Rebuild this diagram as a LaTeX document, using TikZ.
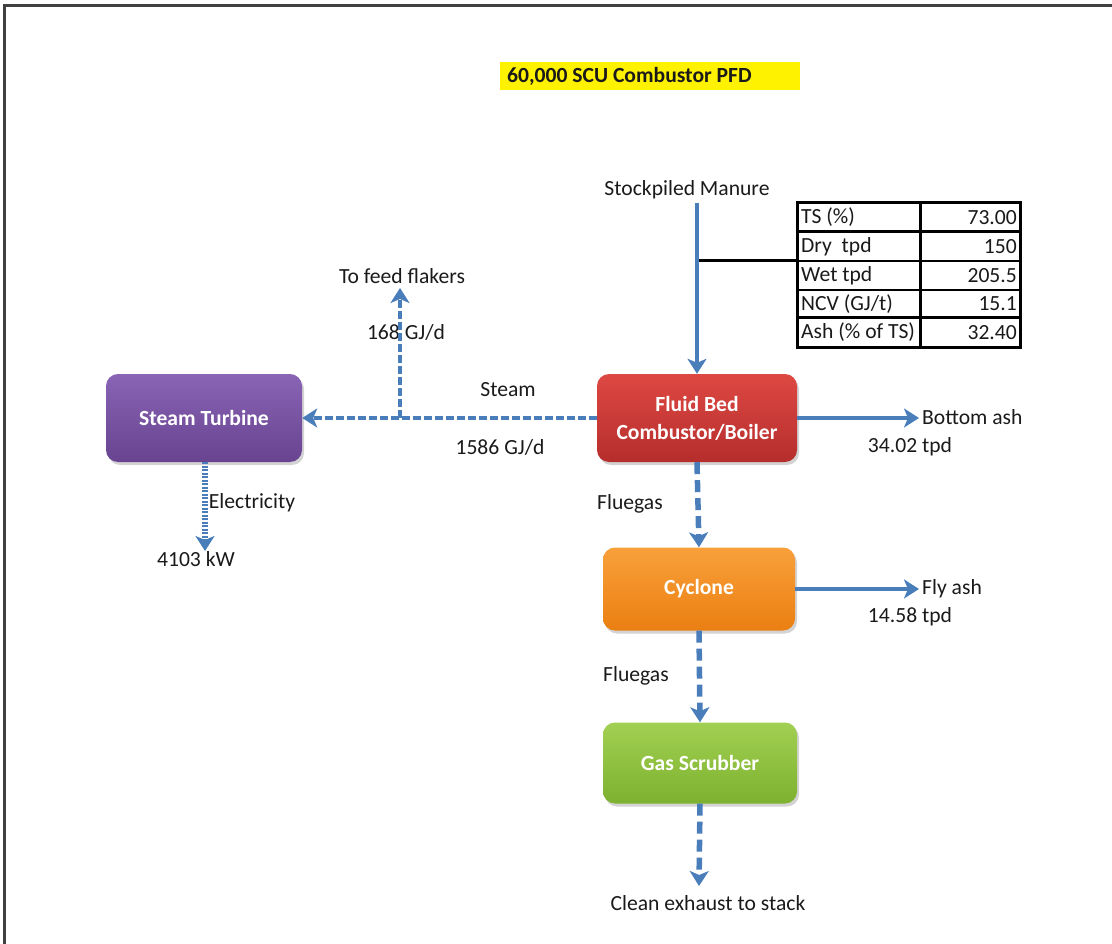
\documentclass[tikz,border=0pt]{standalone}
\usepackage{fontspec}
\setmainfont{Carlito}
\usetikzlibrary{arrows.meta,shadows,positioning}
\definecolor{flowblue}{HTML}{4A7EBB}
\definecolor{frame}{HTML}{404040}
\definecolor{txt}{HTML}{1A1A1A}
\definecolor{purpleT}{HTML}{8A64B5}
\definecolor{purpleB}{HTML}{674390}
\definecolor{redT}{HTML}{DE4843}
\definecolor{redB}{HTML}{B52E2C}
\definecolor{orangeT}{HTML}{F9A03A}
\definecolor{orangeB}{HTML}{EA7F12}
\definecolor{greenT}{HTML}{A2D052}
\definecolor{greenB}{HTML}{7DB12F}
\newcommand\fsz{\fontsize{21.6}{28}\selectfont}
\tikzset{
  lbl/.style={font=\fsz, text=txt, inner sep=0pt},
  unit/.style={rounded corners=12pt, minimum height=88pt, text=white,
    font=\fsz\bfseries, align=center, inner sep=0pt,
    drop shadow={opacity=0.35, shadow xshift=2pt, shadow yshift=-3pt}},
  tip/.style={-{Stealth[length=15pt,width=19pt,inset=4pt]}},
  solidflow/.style={tip, draw=flowblue, fill=flowblue, line width=4pt},
  dashflow/.style={tip, draw=flowblue, line width=4.5pt, dash pattern=on 8pt off 3pt},
  gasflow/.style={tip, draw=flowblue, line width=5.5pt, dash pattern=on 12pt off 6pt},
  dotflow/.style={tip, draw=flowblue, line width=5.5pt, dash pattern=on 2pt off 1.5pt},
  cell/.style={font=\fsz, text=txt, inner sep=0pt},
}
\begin{document}
\begin{tikzpicture}[x=1pt,y=-1pt]
\useasboundingbox (0,0) rectangle (1112,944);
% frame (top and left only)
\draw[frame, line width=3pt] (4,944) -- (4,5.5) -- (1112,5.5);

% title
\node[fill=yellow, minimum width=300pt, minimum height=28pt, inner sep=0pt] (title) at (650,76) {};
\node[font=\fsz\bfseries, text=txt, anchor=west, inner sep=0pt] (titletext) at (507,76) {60,000 SCU Combustor PFD};

% process units
\node[unit, minimum width=196pt, top color=purpleT, bottom color=purpleB] (st) at (204,418) {Steam Turbine};
\node[unit, minimum width=200pt, top color=redT, bottom color=redB] (fb) at (697,418) {Fluid Bed\\Combustor/Boiler};
\node[unit, minimum width=192pt, minimum height=83pt, top color=orangeT, bottom color=orangeB] (cy) at (699,589) {Cyclone};
\node[unit, minimum width=194pt, minimum height=81pt, top color=greenT, bottom color=greenB] (gs) at (700,763) {Gas Scrubber};

% labels
\node[lbl] (sm) at (687,190) {Stockpiled Manure};
\node[lbl] (flak) at (402,276) {To feed flakers};
\node[lbl] (q168) at (406,332) {168 GJ/d};
\node[lbl] (steam) at (508,390) {Steam};
\node[lbl] (q1586) at (500,447) {1586 GJ/d};
\node[lbl, anchor=west] (bash) at (922,417) {Bottom ash};
\node[lbl] (qbash) at (910,447) {34.02 tpd};
\node[lbl] (fg1) at (630,504) {Fluegas};
\node[lbl, anchor=west] (fash) at (922,589) {Fly ash};
\node[lbl] (qfash) at (910,617) {14.58 tpd};
\node[lbl] (fg2) at (636,676) {Fluegas};
\node[lbl] (stack) at (708,903) {Clean exhaust to stack};
\node[lbl] (elec) at (252,503) {Electricity};
\node[lbl] (kw) at (196,559) {4103 kW};

% coordinates for free ends
\coordinate (smtop) at (697,203);
\coordinate (tee) at (697,261);
\coordinate (junction) at (400,418);
\coordinate (flakend) at (400,288);
\coordinate (bashend) at (919,418);
\coordinate (fashend) at (919,589);
\coordinate (stackend) at (699,886);
\coordinate (elecend) at (205,551);

% table
\foreach \y/\a/\b [count=\i] in {217.5/{TS (\%)}/73.00, 246.5/{Dry~ tpd}/150, 275.5/{Wet tpd}/205.5, 304/{NCV (GJ/t)}/15.1, 332.5/{Ash (\% of TS)}/32.40}{
  \node[cell, anchor=west] (tl\i) at (801,\y) {\a};
  \node[cell, anchor=east] (tr\i) at (1017,\y) {\b};
}
\coordinate (tabw) at (797,261);
\draw[black, line width=1.5pt] (797,261) -- (1022,261) (797,290) -- (1022,290);
\draw[black, line width=3pt] (797,232) -- (1022,232) (797,318) -- (1022,318);
\draw[black, line width=3pt] (797,203) rectangle (1020,347);
\draw[black, line width=3pt] (920,203) -- (920,347);

% connectors
\draw[black, line width=3pt] (tee) -- (tabw);
\draw[solidflow] (smtop) -- (fb.north);
\draw[dashflow] (fb.west) -- (st.east);
\draw[dashflow] (junction) -- (flakend);
\draw[solidflow] (fb.east) -- (bashend);
\draw[gasflow] (fb.south) -- (cy.north);
\draw[solidflow] (cy.east) -- (fashend);
\draw[gasflow] (cy.south) -- (gs.north);
\draw[gasflow] (gs.south) -- (stackend);
\draw[dotflow] (st.south -| elecend) -- (elecend);
\end{tikzpicture}
\end{document}
